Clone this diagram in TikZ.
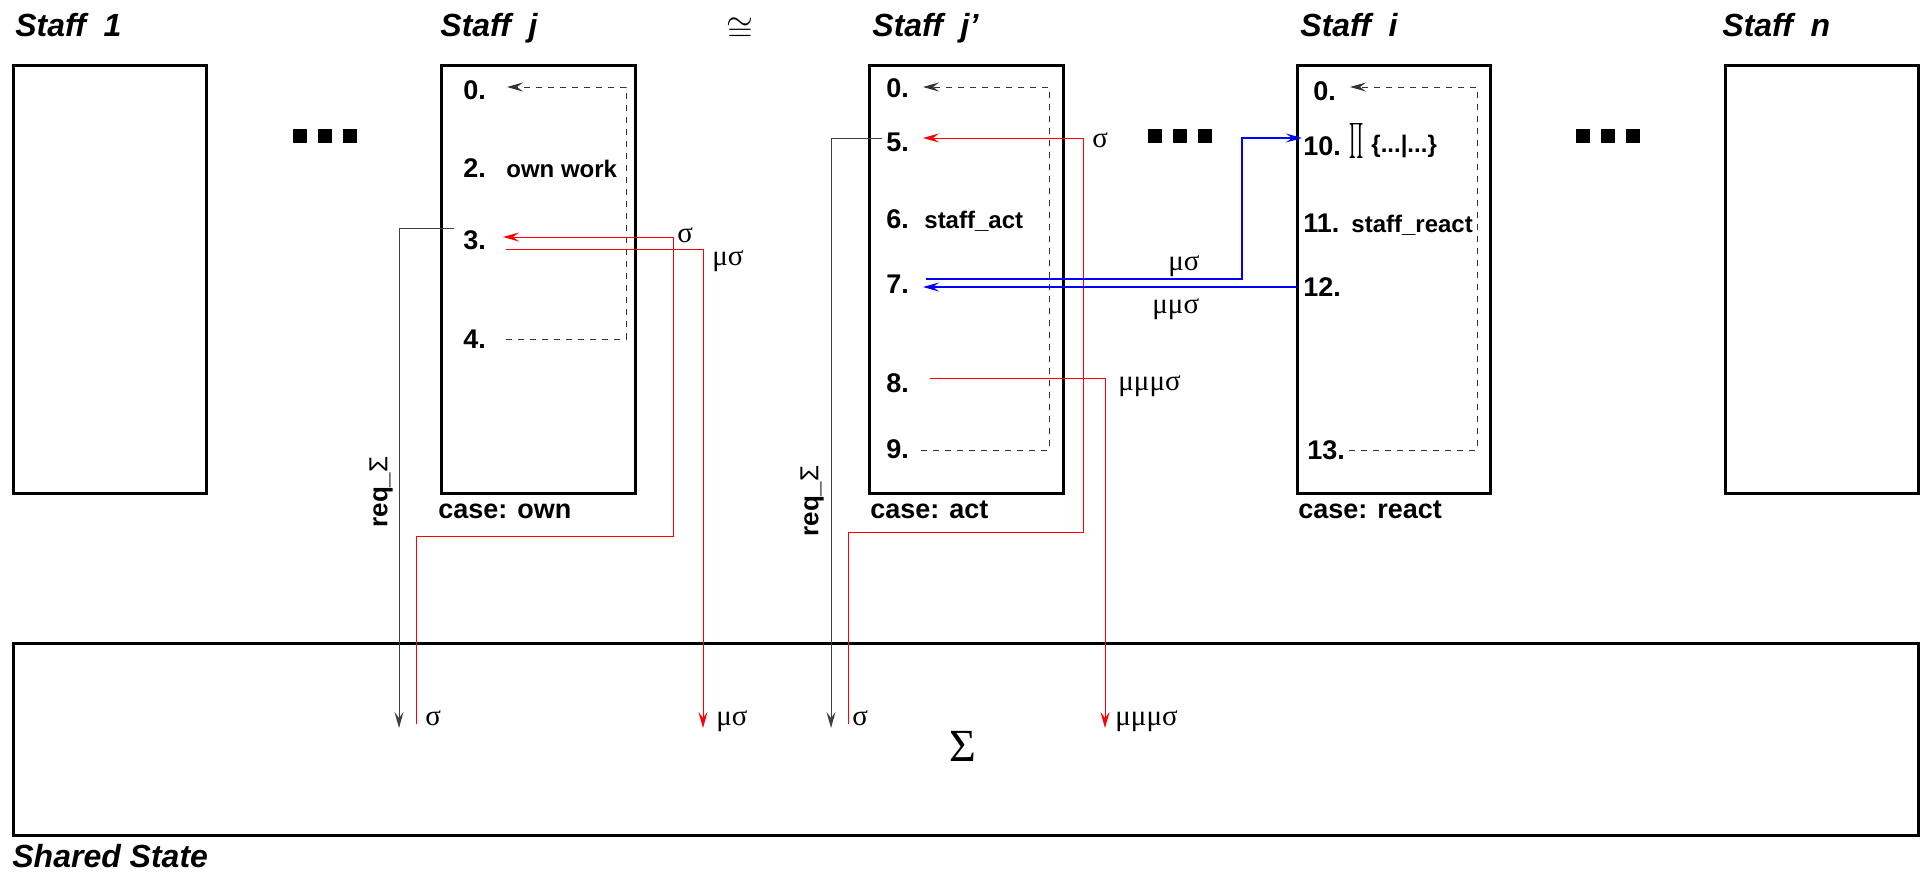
\documentclass[tikz,border=0pt]{standalone}
\usepackage{fontspec}
\usepackage{graphicx}
\setmainfont{Liberation Sans}
\newfontfamily\greekf{Liberation Serif}
\usetikzlibrary{arrows.meta}
\begin{document}
\begin{tikzpicture}[x=0.5pt,y=-0.5pt,
  box/.style={draw,line width=1.5pt,inner sep=0pt,minimum height=214pt},
  title/.style={font=\fontsize{16}{16}\selectfont\bfseries\itshape,anchor=base west,inner sep=0pt},
  lbl/.style={font=\fontsize{13.5}{13.5}\selectfont\bfseries,anchor=base west,inner sep=0pt},
  txt/.style={font=\fontsize{12}{12}\selectfont\bfseries,anchor=base west,inner sep=0pt},
  gk/.style={font=\fontsize{14.5}{14.5}\selectfont\greekf,anchor=base west,inner sep=0pt},
  tip/.style={-{Stealth[length=8pt,width=4.5pt,inset=3pt]}},
  redl/.style={red,line width=0.5pt},
  bluel/.style={blue,line width=0.6pt},
  reql/.style={black!75,line width=0.5pt},
  dloop/.style={black!80,line width=0.5pt,dash pattern=on 3pt off 3pt},
  dot/.style={fill=black,inner sep=0pt,minimum width=6.75pt,minimum height=7pt}
]
\useasboundingbox (0,0) rectangle (1921,879);

% titles
\node[title] (t1) at (15,36) {Staff~~1};
\node[title] (tj) at (440,36) {Staff~~j};
\node[title] (tjp) at (872,36) {Staff~~j’};
\node[title] (ti) at (1300,36) {Staff~~i};
\node[title] (tn) at (1722,36) {Staff~~n};
\node[inner sep=0pt,font=\fontsize{16}{16}\selectfont] (cong) at (740,30) {$\cong$};
\node[title] (tss) at (12,867) {Shared State};

% boxes
\node[box,minimum width=96.25pt] (s1) at (110,279) {};
\node[box,minimum width=97pt] (sj) at (538,279) {};
\node[box,minimum width=97pt] (sjp) at (966,279) {};
\node[box,minimum width=96.5pt] (si) at (1393.5,279) {};
\node[box,minimum width=96.5pt] (sn) at (1821.5,279) {};
\node[draw,line width=1.5pt,inner sep=0pt,minimum width=952.25pt,minimum height=96pt] (ss) at (965.75,739) {};

% dots
\foreach \x/\n in {300/a,325/b,350/c,1155/d,1180/e,1205/f,1583/g,1608/h,1633/k}
  \node[dot] (dot\n) at (\x,136) {};

% Staff j rows
\node[lbl] (j0) at (463,99) {0.};
\node[lbl] (j2) at (463,177) {2.};
\node[txt] (jw) at (506,177) {own work};
\node[lbl] (j3) at (463,249) {3.};
\node[lbl] (j4) at (463,348) {4.};
\node[lbl] (cj) at (438,518) {case: own};

% Staff j' rows
\node[lbl] (p0) at (886,97) {0.};
\node[lbl] (p5) at (886,151) {5.};
\node[lbl] (p6) at (886,228) {6.};
\node[txt] (pa) at (924,228) {staff\_act};
\node[lbl] (p7) at (886,293) {7.};
\node[lbl] (p8) at (886,392) {8.};
\node[lbl] (p9) at (886,458) {9.};
\node[lbl] (cp) at (870,518) {case: act};

% Staff i rows
\node[lbl] (i0) at (1313,100) {0.};
\node[lbl] (i10) at (1303,155) {10.};
\node[inner sep=0pt] (iprod) at (1357,141) {\scalebox{0.55}[1.25]{$\displaystyle\prod$}};
\node[txt] (iset) at (1371,152) {\{...|...\}};
\node[lbl] (i11) at (1303,232) {11.};
\node[txt] (ir) at (1351,232) {staff\_react};
\node[lbl] (i12) at (1303,296) {12.};
\node[lbl] (i13) at (1307,459) {13.};
\node[lbl] (ci) at (1298,518) {case: react};

% req labels
\node[rotate=90,inner sep=0pt,font=\fontsize{13}{13}\selectfont\bfseries] (rqj) at (381,492) {req\_{\mdseries Σ}};
\node[rotate=90,inner sep=0pt,font=\fontsize{13}{13}\selectfont\bfseries] (rqp) at (812,501) {req\_{\mdseries Σ}};

% greek labels
\node[gk] (gj1) at (677,242) {σ};
\node[gk] (gj2) at (712,265) {μσ};
\node[gk] (gp1) at (1092,147) {σ};
\node[gk] (gb1) at (1168,270) {μσ};
\node[gk] (gb2) at (1152,313) {μμσ};
\node[gk] (gp8) at (1118,390) {μμμσ};
\node[gk] (gs1) at (425,725) {σ};
\node[gk] (gs2) at (716,725) {μσ};
\node[gk] (gs3) at (852,725) {σ};
\node[gk] (gs4) at (1115,725) {μμμσ};
\node[inner sep=0pt,font=\fontsize{23}{23}\selectfont\greekf] (sig) at (963,746) {Σ};

% connector end points
\coordinate (j0in) at (507,87);
\coordinate (j4out) at (506,339);
\coordinate (j3in) at (503,237);
\coordinate (j3out) at (506,249);
\coordinate (j3req) at (454,228);
\coordinate (bsj) at (416,724);
\coordinate (bmuj) at (703,728);
\coordinate (breqj) at (399,728);

\coordinate (p0in) at (923,87);
\coordinate (p9out) at (921,450);
\coordinate (p5in) at (923,138);
\coordinate (p5req) at (882,138);
\coordinate (p7out) at (926,279);
\coordinate (p7in) at (923,287);
\coordinate (p8out) at (930,378);
\coordinate (bsp) at (848,724);
\coordinate (breqp) at (831,728);
\coordinate (bmup) at (1105,728);

\coordinate (i0in) at (1350,87);
\coordinate (i13out) at (1349,450);
\coordinate (i10in) at (1302,138);
\coordinate (i12out) at (1297,287);

% dashed loops
\draw[dloop,tip] (j4out) -- ++(120,0) |- (j0in);
\draw[dloop,tip] (p9out) -- ++(128,0) |- (p0in);
\draw[dloop,tip] (i13out) -- ++(128,0) |- (i0in);

% staff j connectors
\draw[reql,tip] (j3req) -| (breqj);
\draw[redl,tip] (bsj) -- (416,536) -| (673,237) -- (j3in);
\draw[redl,tip] (j3out) -| (bmuj);

% staff j' connectors
\draw[reql,tip] (p5req) -| (breqp);
\draw[redl,tip] (bsp) -- (848,532) -| (1083,138) -- (p5in);
\draw[redl,tip] (p8out) -| (bmup);

% blue connectors
\draw[bluel,tip] (p7out) -- (1242,279) |- (i10in);
\draw[bluel,tip] (i12out) -- (p7in);
\end{tikzpicture}
\end{document}
